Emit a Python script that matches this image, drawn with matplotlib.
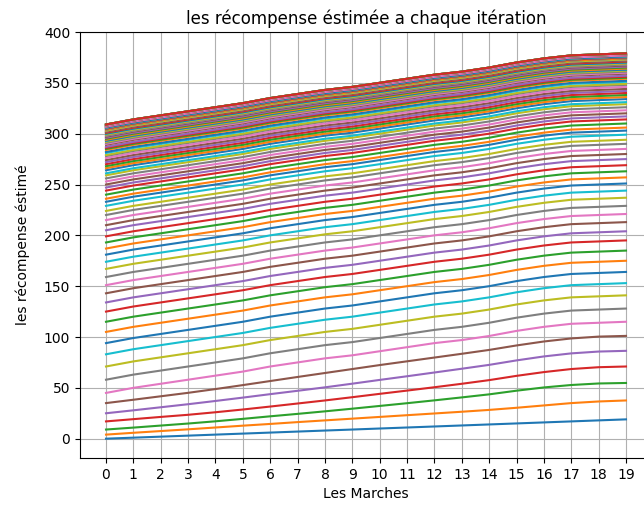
import matplotlib
matplotlib.use("Agg")
import matplotlib.pyplot as plt

# %% Data (one row per iteration, one value per step)
marches = [0, 1, 2, 3, 4, 5, 6, 7, 8, 9, 10, 11, 12, 13, 14, 15, 16, 17, 18, 19]

recompenses = [
    [0, 1, 2, 3, 4, 5, 6, 7, 8, 9, 10, 11, 12, 13, 14, 15, 16, 17, 18, 19],
    [4, 5.8, 7.5, 9.2, 11.0, 12.8, 14.5, 16.3, 18.0, 19.7, 21.4, 23.1, 24.8, 26.5, 28.3, 30.4, 32.7, 35.0, 36.6, 37.6],
    [9.0, 10.9, 12.9, 14.9, 17.1, 19.5, 22.0, 24.4, 26.9, 29.5, 32.2, 34.9, 37.7, 40.6, 43.6, 47.2, 50.4, 52.8, 54.3, 54.8],
    [17.0, 19.2, 21.4, 23.5, 26.0, 28.7, 31.6, 34.6, 37.6, 40.8, 44.1, 47.3, 50.6, 54.0, 57.6, 61.8, 65.5, 68.5, 70.3, 71.0],
    [25.0, 27.9, 30.9, 33.9, 37.1, 40.4, 43.8, 47.1, 50.5, 54.1, 57.8, 61.4, 65.1, 68.8, 72.6, 77.0, 80.9, 83.9, 85.7, 86.4],
    [35.0, 38.3, 41.7, 45.1, 48.8, 52.7, 56.7, 60.7, 64.6, 68.5, 72.4, 76.1, 79.8, 83.5, 87.3, 91.7, 95.6, 98.6, 100.4, 101.1],
    [45, 50, 54, 58, 62, 66, 71, 75, 79, 82, 86, 90, 94, 97, 101, 106, 110, 113, 114, 115],
    [58, 63, 67, 71, 75, 79, 84, 88, 92, 95, 99, 103, 107, 110, 114, 119, 123, 126, 127, 128],
    [71, 76, 80, 84, 88, 92, 97, 101, 105, 108, 112, 116, 120, 123, 127, 132, 136, 139, 140, 141],
    [83, 88, 92, 96, 100, 104, 109, 113, 117, 120, 124, 128, 132, 135, 139, 144, 148, 151, 152, 153],
    [94, 99, 103, 107, 111, 115, 120, 124, 128, 131, 135, 139, 143, 146, 150, 155, 159, 162, 163, 164],
    [105, 110, 114, 118, 122, 126, 131, 135, 139, 142, 146, 150, 154, 157, 161, 166, 170, 173, 174, 175],
    [115, 120, 124, 128, 132, 136, 141, 145, 149, 152, 156, 160, 164, 167, 171, 176, 180, 183, 184, 185],
    [125, 130, 134, 138, 142, 146, 151, 155, 159, 162, 166, 170, 174, 177, 181, 186, 190, 193, 194, 195],
    [134, 139, 143, 147, 151, 155, 160, 164, 168, 171, 175, 179, 183, 186, 190, 195, 199, 202, 203, 204],
    [143, 148, 152, 156, 160, 164, 169, 173, 177, 180, 184, 188, 192, 195, 199, 204, 208, 211, 212, 213],
    [151, 156, 160, 164, 168, 172, 177, 181, 185, 188, 192, 196, 200, 203, 207, 212, 216, 219, 220, 221],
    [159, 164, 168, 172, 176, 180, 185, 189, 193, 196, 200, 204, 208, 211, 215, 220, 224, 227, 228, 229],
    [167, 172, 176, 180, 184, 188, 193, 197, 201, 204, 208, 212, 216, 219, 223, 228, 232, 235, 236, 237],
    [174, 179, 183, 187, 191, 195, 200, 204, 208, 211, 215, 219, 223, 226, 230, 235, 239, 242, 243, 244],
    [181, 186, 190, 194, 198, 202, 207, 211, 215, 218, 222, 226, 230, 233, 237, 242, 246, 249, 250, 251],
    [187, 192, 196, 200, 204, 208, 213, 217, 221, 224, 228, 232, 236, 239, 243, 248, 252, 255, 256, 257],
    [193, 198, 202, 206, 210, 214, 219, 223, 227, 230, 234, 238, 242, 245, 249, 254, 258, 261, 262, 263],
    [199, 204, 208, 212, 216, 220, 225, 229, 233, 236, 240, 244, 248, 251, 255, 260, 264, 267, 268, 269],
    [205, 210, 214, 218, 222, 226, 231, 235, 239, 242, 246, 250, 254, 257, 261, 266, 270, 273, 274, 275],
    [210, 215, 219, 223, 227, 231, 236, 240, 244, 247, 251, 255, 259, 262, 266, 271, 275, 278, 279, 280],
    [215, 220, 224, 228, 232, 236, 241, 245, 249, 252, 256, 260, 264, 267, 271, 276, 280, 283, 284, 285],
    [220, 225, 229, 233, 237, 241, 246, 250, 254, 257, 261, 265, 269, 272, 276, 281, 285, 288, 289, 290],
    [224, 229, 233, 237, 241, 245, 250, 254, 258, 261, 265, 269, 273, 276, 280, 285, 289, 292, 293, 294],
    [229, 234, 238, 242, 246, 250, 255, 259, 263, 266, 270, 274, 278, 281, 285, 290, 294, 297, 298, 299],
    [233, 238, 242, 246, 250, 254, 259, 263, 267, 270, 274, 278, 282, 285, 289, 294, 298, 301, 302, 303],
    [236, 241, 245, 249, 253, 257, 262, 266, 270, 273, 277, 281, 285, 288, 292, 297, 301, 304, 305, 306],
    [240, 245, 249, 253, 257, 261, 266, 270, 274, 277, 281, 285, 289, 292, 296, 301, 305, 308, 309, 310],
    [244, 249, 253, 257, 261, 265, 270, 274, 278, 281, 285, 289, 293, 296, 300, 305, 309, 312, 313, 314],
    [247, 252, 256, 260, 264, 268, 273, 277, 281, 284, 288, 292, 296, 299, 303, 308, 312, 315, 316, 317],
    [250, 255, 259, 263, 267, 271, 276, 280, 284, 287, 291, 295, 299, 302, 306, 311, 315, 318, 319, 320],
    [253, 258, 262, 266, 270, 274, 279, 283, 287, 290, 294, 298, 302, 305, 309, 314, 318, 321, 322, 323],
    [256, 261, 265, 269, 273, 277, 282, 286, 290, 293, 297, 301, 305, 308, 312, 317, 321, 324, 325, 326],
    [259, 264, 268, 272, 276, 280, 285, 289, 293, 296, 300, 304, 308, 311, 315, 320, 324, 327, 328, 329],
    [261, 266, 270, 274, 278, 282, 287, 291, 295, 298, 302, 306, 310, 313, 317, 322, 326, 329, 330, 331],
    [264, 269, 273, 277, 281, 285, 290, 294, 298, 301, 305, 309, 313, 316, 320, 325, 329, 332, 333, 334],
    [266, 271, 275, 279, 283, 287, 292, 296, 300, 303, 307, 311, 315, 318, 322, 327, 331, 334, 335, 336],
    [268, 273, 277, 281, 285, 289, 294, 298, 302, 305, 309, 313, 317, 320, 324, 329, 333, 336, 337, 338],
    [270, 275, 279, 283, 287, 291, 296, 300, 304, 307, 311, 315, 319, 322, 326, 331, 335, 338, 339, 340],
    [272, 277, 281, 285, 289, 293, 298, 302, 306, 309, 313, 317, 321, 324, 328, 333, 337, 340, 341, 342],
    [274, 279, 283, 287, 291, 295, 300, 304, 308, 311, 315, 319, 323, 326, 330, 335, 339, 342, 343, 344],
    [276, 281, 285, 289, 293, 297, 302, 306, 310, 313, 317, 321, 325, 328, 332, 337, 341, 344, 345, 346],
    [278, 283, 287, 291, 295, 299, 304, 308, 312, 315, 319, 323, 327, 330, 334, 339, 343, 346, 347, 348],
    [279, 284, 288, 292, 296, 300, 305, 309, 313, 316, 320, 324, 328, 331, 335, 340, 344, 347, 348, 349],
    [281, 286, 290, 294, 298, 302, 307, 311, 315, 318, 322, 326, 330, 333, 337, 342, 346, 349, 350, 351],
    [282, 287, 291, 295, 299, 303, 308, 312, 316, 319, 323, 327, 331, 334, 338, 343, 347, 350, 351, 352],
    [284, 289, 293, 297, 301, 305, 310, 314, 318, 321, 325, 329, 333, 336, 340, 345, 349, 352, 353, 354],
    [285, 290, 294, 298, 302, 306, 311, 315, 319, 322, 326, 330, 334, 337, 341, 346, 350, 353, 354, 355],
    [286, 291, 295, 299, 303, 307, 312, 316, 320, 323, 327, 331, 335, 338, 342, 347, 351, 354, 355, 356],
    [287, 292, 296, 300, 304, 308, 313, 317, 321, 324, 328, 332, 336, 339, 343, 348, 352, 355, 356, 357],
    [289, 294, 298, 302, 306, 310, 315, 319, 323, 326, 330, 334, 338, 341, 345, 350, 354, 357, 358, 359],
    [290, 295, 299, 303, 307, 311, 316, 320, 324, 327, 331, 335, 339, 342, 346, 351, 355, 358, 359, 360],
    [291, 296, 300, 304, 308, 312, 317, 321, 325, 328, 332, 336, 340, 343, 347, 352, 356, 359, 360, 361],
    [292, 297, 301, 305, 309, 313, 318, 322, 326, 329, 333, 337, 341, 344, 348, 353, 357, 360, 361, 362],
    [293, 298, 302, 306, 310, 314, 319, 323, 327, 330, 334, 338, 342, 345, 349, 354, 358, 361, 362, 363],
    [293, 298, 302, 306, 310, 314, 319, 323, 327, 330, 334, 338, 342, 345, 349, 354, 358, 361, 362, 363],
    [294, 299, 303, 307, 311, 315, 320, 324, 328, 331, 335, 339, 343, 346, 350, 355, 359, 362, 363, 364],
    [295, 300, 304, 308, 312, 316, 321, 325, 329, 332, 336, 340, 344, 347, 351, 356, 360, 363, 364, 365],
    [296, 301, 305, 309, 313, 317, 322, 326, 330, 333, 337, 341, 345, 348, 352, 357, 361, 364, 365, 366],
    [296, 301, 305, 309, 313, 317, 322, 326, 330, 333, 337, 341, 345, 348, 352, 357, 361, 364, 365, 366],
    [297, 302, 306, 310, 314, 318, 323, 327, 331, 334, 338, 342, 346, 349, 353, 358, 362, 365, 366, 367],
    [298, 303, 307, 311, 315, 319, 324, 328, 332, 335, 339, 343, 347, 350, 354, 359, 363, 366, 367, 368],
    [298, 303, 307, 311, 315, 319, 324, 328, 332, 335, 339, 343, 347, 350, 354, 359, 363, 366, 367, 368],
    [299, 304, 308, 312, 316, 320, 325, 329, 333, 336, 340, 344, 348, 351, 355, 360, 364, 367, 368, 369],
    [300, 305, 309, 313, 317, 321, 326, 330, 334, 337, 341, 345, 349, 352, 356, 361, 365, 368, 369, 370],
    [300, 305, 309, 313, 317, 321, 326, 330, 334, 337, 341, 345, 349, 352, 356, 361, 365, 368, 369, 370],
    [301, 306, 310, 314, 318, 322, 327, 331, 335, 338, 342, 346, 350, 353, 357, 362, 366, 369, 370, 371],
    [301, 306, 310, 314, 318, 322, 327, 331, 335, 338, 342, 346, 350, 353, 357, 362, 366, 369, 370, 371],
    [301, 306, 310, 314, 318, 322, 327, 331, 335, 338, 342, 346, 350, 353, 357, 362, 366, 369, 370, 371],
    [302, 307, 311, 315, 319, 323, 328, 332, 336, 339, 343, 347, 351, 354, 358, 363, 367, 370, 371, 372],
    [302, 307, 311, 315, 319, 323, 328, 332, 336, 339, 343, 347, 351, 354, 358, 363, 367, 370, 371, 372],
    [303, 308, 312, 316, 320, 324, 329, 333, 337, 340, 344, 348, 352, 355, 359, 364, 368, 371, 372, 373],
    [303, 308, 312, 316, 320, 324, 329, 333, 337, 340, 344, 348, 352, 355, 359, 364, 368, 371, 372, 373],
    [303, 308, 312, 316, 320, 324, 329, 333, 337, 340, 344, 348, 352, 355, 359, 364, 368, 371, 372, 373],
    [304, 309, 313, 317, 321, 325, 330, 334, 338, 341, 345, 349, 353, 356, 360, 365, 369, 372, 373, 374],
    [304, 309, 313, 317, 321, 325, 330, 334, 338, 341, 345, 349, 353, 356, 360, 365, 369, 372, 373, 374],
    [304, 309, 313, 317, 321, 325, 330, 334, 338, 341, 345, 349, 353, 356, 360, 365, 369, 372, 373, 374],
    [305, 310, 314, 318, 322, 326, 331, 335, 339, 342, 346, 350, 354, 357, 361, 366, 370, 373, 374, 375],
    [305, 310, 314, 318, 322, 326, 331, 335, 339, 342, 346, 350, 354, 357, 361, 366, 370, 373, 374, 375],
    [305, 310, 314, 318, 322, 326, 331, 335, 339, 342, 346, 350, 354, 357, 361, 366, 370, 373, 374, 375],
    [305, 310, 314, 318, 322, 326, 331, 335, 339, 342, 346, 350, 354, 357, 361, 366, 370, 373, 374, 375],
    [306, 311, 315, 319, 323, 327, 332, 336, 340, 343, 347, 351, 355, 358, 362, 367, 371, 374, 375, 376],
    [306, 311, 315, 319, 323, 327, 332, 336, 340, 343, 347, 351, 355, 358, 362, 367, 371, 374, 375, 376],
    [306, 311, 315, 319, 323, 327, 332, 336, 340, 343, 347, 351, 355, 358, 362, 367, 371, 374, 375, 376],
    [306, 311, 315, 319, 323, 327, 332, 336, 340, 343, 347, 351, 355, 358, 362, 367, 371, 374, 375, 376],
    [306, 311, 315, 319, 323, 327, 332, 336, 340, 343, 347, 351, 355, 358, 362, 367, 371, 374, 375, 376],
    [307, 312, 316, 320, 324, 328, 333, 337, 341, 344, 348, 352, 356, 359, 363, 368, 372, 375, 376, 377],
    [307, 312, 316, 320, 324, 328, 333, 337, 341, 344, 348, 352, 356, 359, 363, 368, 372, 375, 376, 377],
    [307, 312, 316, 320, 324, 328, 333, 337, 341, 344, 348, 352, 356, 359, 363, 368, 372, 375, 376, 377],
    [307, 312, 316, 320, 324, 328, 333, 337, 341, 344, 348, 352, 356, 359, 363, 368, 372, 375, 376, 377],
    [307, 312, 316, 320, 324, 328, 333, 337, 341, 344, 348, 352, 356, 359, 363, 368, 372, 375, 376, 377],
    [307, 312, 316, 320, 324, 328, 333, 337, 341, 344, 348, 352, 356, 359, 363, 368, 372, 375, 376, 377],
    [308, 313, 317, 321, 325, 329, 334, 338, 342, 345, 349, 353, 357, 360, 364, 369, 373, 376, 377, 378],
    [308, 313, 317, 321, 325, 329, 334, 338, 342, 345, 349, 353, 357, 360, 364, 369, 373, 376, 377, 378],
    [308, 313, 317, 321, 325, 329, 334, 338, 342, 345, 349, 353, 357, 360, 364, 369, 373, 376, 377, 378],
    [308, 313, 317, 321, 325, 329, 334, 338, 342, 345, 349, 353, 357, 360, 364, 369, 373, 376, 377, 378],
    [308, 313, 317, 321, 325, 329, 334, 338, 342, 345, 349, 353, 357, 360, 364, 369, 373, 376, 377, 378],
    [308, 313, 317, 321, 325, 329, 334, 338, 342, 345, 349, 353, 357, 360, 364, 369, 373, 376, 377, 378],
    [308, 313, 317, 321, 325, 329, 334, 338, 342, 345, 349, 353, 357, 360, 364, 369, 373, 376, 377, 378],
    [308, 313, 317, 321, 325, 329, 334, 338, 342, 345, 349, 353, 357, 360, 364, 369, 373, 376, 377, 378],
    [308, 313, 317, 321, 325, 329, 334, 338, 342, 345, 349, 353, 357, 360, 364, 369, 373, 376, 377, 378],
    [308, 313, 317, 321, 325, 329, 334, 338, 342, 345, 349, 353, 357, 360, 364, 369, 373, 376, 377, 378],
    [309, 314, 318, 322, 326, 330, 335, 339, 343, 346, 350, 354, 358, 361, 365, 370, 374, 377, 378, 379],
    [309, 314, 318, 322, 326, 330, 335, 339, 343, 346, 350, 354, 358, 361, 365, 370, 374, 377, 378, 379],
    [309, 314, 318, 322, 326, 330, 335, 339, 343, 346, 350, 354, 358, 361, 365, 370, 374, 377, 378, 379],
    [309, 314, 318, 322, 326, 330, 335, 339, 343, 346, 350, 354, 358, 361, 365, 370, 374, 377, 378, 379],
    [309, 314, 318, 322, 326, 330, 335, 339, 343, 346, 350, 354, 358, 361, 365, 370, 374, 377, 378, 379],
    [309, 314, 318, 322, 326, 330, 335, 339, 343, 346, 350, 354, 358, 361, 365, 370, 374, 377, 378, 379],
    [309, 314, 318, 322, 326, 330, 335, 339, 343, 346, 350, 354, 358, 361, 365, 370, 374, 377, 378, 379],
]

# %% Plot
fig = plt.figure(figsize=(6.44, 5.09), dpi=100)
# axes run past the right edge of the picture, as in the reference
ax = fig.add_axes([80 / 644, 51 / 509, 572 / 644, 426 / 509])

for ligne in recompenses:
    ax.plot(marches, ligne)

ax.set_xticks(marches)
ax.set_ylim(-19, 400)
ax.grid(True)
ax.set_title("les récompense éstimée a chaque itération")
ax.set_xlabel("Les Marches")
ax.set_ylabel("les récompense éstimé", labelpad=10)

fig.savefig("out.png", dpi=100)
